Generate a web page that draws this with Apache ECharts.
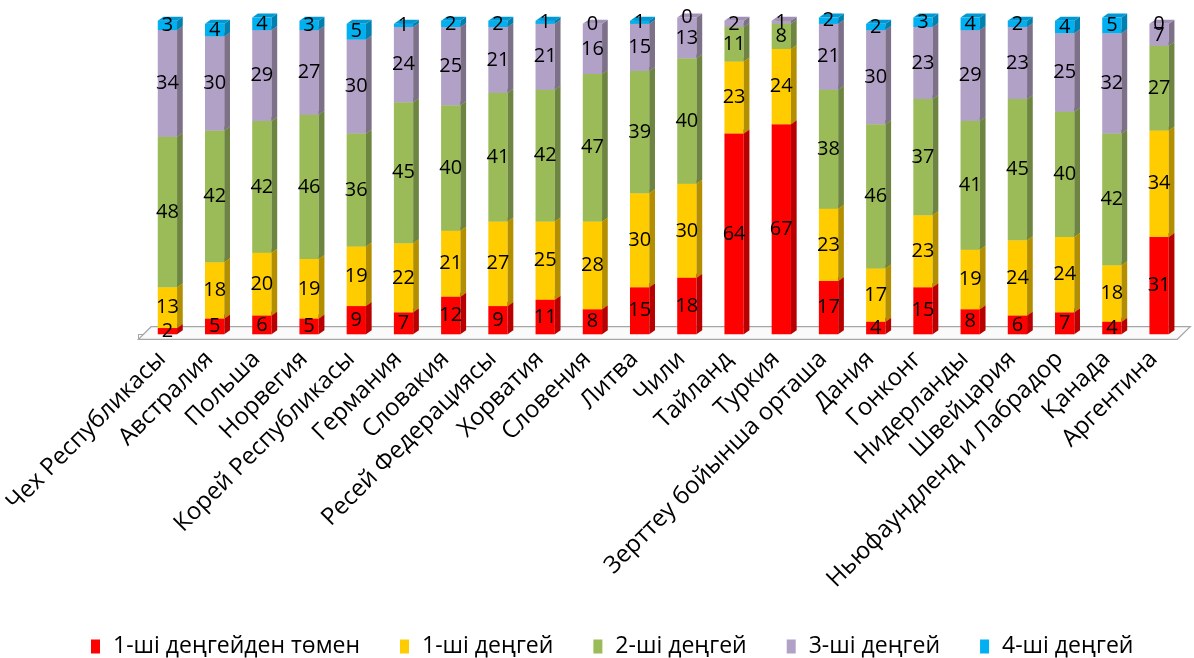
<!DOCTYPE html>
<html>
<head>
<meta charset="utf-8">
<script src="https://cdn.jsdelivr.net/npm/echarts@6/dist/echarts.min.js"></script>
<style>
html,body{margin:0;padding:0;background:#fff;}
#main{width:1194px;height:658px;}
</style>
</head>
<body>
<div id="main"></div>
<script>
const categories = ["Чех Республикасы","Австралия","Польша","Норвегия","Корей Республикасы","Германия","Словакия","Ресей Федерациясы","Хорватия","Словения","Литва","Чили","Тайланд","Туркия","Зерттеу бойынша орташа","Дания","Гонконг","Нидерланды","Швейцария","Ньюфаундленд и Лабрадор","Қанада","Аргентина"];
const seriesNames = ["1-ші деңгейден төмен","1-ші деңгей","2-ші деңгей","3-ші деңгей","4-ші деңгей"];
const belowLevel1 = [2,5,6,5,9,7,12,9,11,8,15,18,64,67,17,4,15,8,6,7,4,31];
const level1 = [13,18,20,19,19,22,21,27,25,28,30,30,23,24,23,17,23,19,24,24,18,34];
const level2 = [48,42,42,46,36,45,40,41,42,47,39,40,11,8,38,46,37,41,45,40,42,27];
const level3 = [34,30,29,27,30,24,25,21,21,16,15,13,2,1,21,30,23,29,23,25,32,7];
const level4 = [3,4,4,3,5,1,2,2,1,0,1,0,null,null,2,2,3,4,2,4,5,0];
const seriesData = [belowLevel1, level1, level2, level3, level4];
const frontColors = ["#FF0000","#FFCC00","#9BBB59","#B2A1C7","#00B0F0"];
const sideColors = ["#B80000","#B38F00","#6D8540","#7D7189","#0080AE"];
const topColors = ["#E00000","#E6B800","#8AA84E","#A090B5","#0099D4"];

const chart = echarts.init(document.getElementById('main'));
const FW = 19.3, DX = 5.7, DY = -4, SHIFT = 5.4;
const LABEL_FONT = '20px "Open Sans", sans-serif';

function makeSeries(si) {
  const vals = seriesData[si];
  const data = vals.map((v, i) => {
    let base = 0;
    for (let k = 0; k < si; k++) base += (seriesData[k][i] || 0);
    return v == null ? [i, '-', base] : [i, v, base];
  });
  return {
    type: 'custom',
    name: seriesNames[si],
    itemStyle: { color: frontColors[si] },
    data: data,
    encode: { x: 0, y: 1 },
    z: 3,
    renderItem: function (params, api) {
      const cat = api.value(0), v = api.value(1), base = api.value(2);
      if (v == null || isNaN(v)) return null;
      const p0 = api.coord([cat, base]);
      const p1 = api.coord([cat, base + v]);
      const xl = p0[0] + SHIFT - FW / 2, xr = xl + FW;
      const yb = p0[1], yt = p1[1];
      const children = [];
      if (v > 0) {
        children.push({ type: 'rect', shape: { x: xl, y: yt, width: FW, height: yb - yt }, style: { fill: frontColors[si] } });
        children.push({ type: 'polygon', shape: { points: [[xr, yt], [xr + DX, yt + DY], [xr + DX, yb + DY], [xr, yb]] }, style: { fill: sideColors[si] } });
        children.push({ type: 'polygon', shape: { points: [[xl, yt], [xr, yt], [xr + DX, yt + DY], [xl + DX, yt + DY]] }, style: { fill: topColors[si] } });
      }
      children.push({ type: 'text', z2: 100, style: { text: String(v), x: (xl + xr) / 2, y: (yb + yt) / 2, align: 'center', verticalAlign: 'middle', font: LABEL_FONT, fill: '#000' } });
      return { type: 'group', children: children };
    }
  };
}

const floorSeries = {
  type: 'custom',
  name: 'floor',
  silent: true,
  z: 1,
  data: [[0, 0]],
  encode: { x: 0, y: 1 },
  renderItem: function (params, api) {
    const cs = params.coordSys;
    const yb = cs.y + cs.height;
    const xL = cs.x, xR = cs.x + cs.width;
    return {
      type: 'polygon',
      shape: { points: [[xL, yb + 5], [xR, yb + 5], [xR + 13, yb - 7.6], [xL + 12.7, yb - 7.6]] },
      style: { fill: '#FAFAFA', stroke: '#A6A6A6', lineWidth: 1.2 }
    };
  }
};

const option = {
  animation: false,
  backgroundColor: '#fff',
  grid: { left: 137.3, right: 16.7, top: 20.7, bottom: 323.7, containLabel: false },
  legend: {
    bottom: 0,
    left: 86,
    padding: [0, 5, 0, 5],
    data: seriesNames,
    icon: 'rect',
    itemWidth: 9,
    itemHeight: 14,
    itemGap: 40,
    textStyle: { fontFamily: '"Open Sans", sans-serif', fontSize: 23, color: '#000', padding: [0, 0, 0, 8] }
  },
  xAxis: {
    type: 'category',
    data: categories,
    offset: 5,
    axisLine: { lineStyle: { color: '#A6A6A6', width: 1.2 } },
    axisTick: { show: true, length: 5, lineStyle: { color: '#A6A6A6' } },
    axisLabel: { rotate: 45, interval: 0, margin: 16, fontFamily: '"Open Sans", sans-serif', fontSize: 24, color: '#000' }
  },
  yAxis: { type: 'value', min: 0, max: 100, show: false, splitLine: { show: false } },
  series: [floorSeries].concat(seriesNames.map((n, i) => makeSeries(i)))
};
chart.setOption(option);
</script>
</body>
</html>
